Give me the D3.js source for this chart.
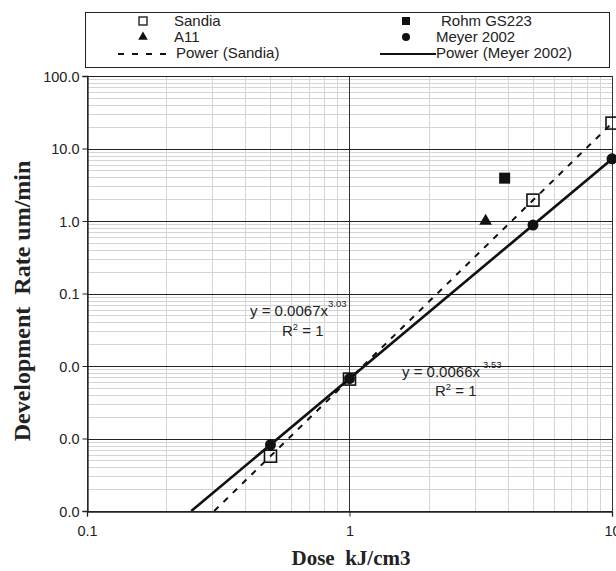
<!DOCTYPE html>
<html>
<head>
<meta charset="utf-8">
<script src="https://cdn.jsdelivr.net/npm/d3@7"></script>
<style>
  html, body { margin: 0; padding: 0; background: #fff; }
  svg { display: block; }
  .tick-label { font-family: "Liberation Sans", Arial, sans-serif; font-size: 14.5px; fill: #222; }
  .axis-title { font-family: "Liberation Serif", "Times New Roman", serif; font-size: 21px; font-weight: bold; fill: #222; white-space: pre; }
  .legend-text, .eq { font-family: "Liberation Sans", Arial, sans-serif; font-size: 15px; fill: #222; }
</style>
</head>
<body>
<svg id="chart" width="616" height="571"></svg>
<script>
// Measured development rate vs. dose
const sandiaDose = [0.5, 1, 5, 10];
const sandiaRate = [0.00057, 0.0066, 1.94, 22.4];
const meyerDose = [0.5, 1, 5, 10];
const meyerRate = [0.00082, 0.0067, 0.88, 7.2];
const rohmDose = [3.9];
const rohmRate = [3.9];
const a11Dose = [3.3];
const a11Rate = [1.0];

// Power-law trendlines  y = a * x^b
const sandiaFit = [0.0066, 3.53];
const meyerFit = [0.0067, 3.03];

// Axis ticks
const xTicks = [0.1, 1, 10];
const yTicks = [0.0001, 0.001, 0.01, 0.1, 1, 10, 100];

const svg = d3.select("#chart");
const plotL = 87, plotR = 612, plotT = 76, plotB = 511;

const x = d3.scaleLog().domain([0.1, 10]).range([plotL, plotR]);
const y = d3.scaleLog().domain([0.0001, 100]).range([plotB, plotT]);

// minor grid values (2..9 in each decade)
const minorX = [], minorY = [];
for (let d = 0.1; d < 10 - 1e-9; d *= 10) for (let k = 2; k <= 9; k++) minorX.push(d * k);
for (let d = 0.0001; d < 100 - 1e-9; d *= 10) for (let k = 2; k <= 9; k++) minorY.push(d * k);

const grid = svg.append("g");
grid.selectAll(".mx").data(minorX).join("line")
  .attr("x1", d => Math.round(x(d)) + 0.5).attr("x2", d => Math.round(x(d)) + 0.5)
  .attr("y1", plotT).attr("y2", plotB)
  .attr("stroke", "#d4d4d4").attr("stroke-width", 1);
grid.selectAll(".my").data(minorY).join("line")
  .attr("y1", d => Math.round(y(d)) + 0.5).attr("y2", d => Math.round(y(d)) + 0.5)
  .attr("x1", plotL).attr("x2", plotR)
  .attr("stroke", "#d4d4d4").attr("stroke-width", 1);
grid.selectAll(".Mx").data(xTicks).join("line")
  .attr("x1", d => Math.round(x(d)) + 0.5).attr("x2", d => Math.round(x(d)) + 0.5)
  .attr("y1", plotT).attr("y2", plotB)
  .attr("stroke", "#333").attr("stroke-width", 1);
grid.selectAll(".My").data(yTicks).join("line")
  .attr("y1", d => Math.round(y(d)) + 0.5).attr("y2", d => Math.round(y(d)) + 0.5)
  .attr("x1", plotL).attr("x2", plotR)
  .attr("stroke", "#222").attr("stroke-width", 1);

// axes
const fmtY = d3.format(".1f");
const yAxis = d3.axisLeft(y).tickValues(yTicks).tickFormat(fmtY).tickSize(5).tickPadding(3);
const xAxis = d3.axisBottom(x).tickValues(xTicks).tickFormat(d => d === 0.1 ? "0.1" : String(d)).tickSize(5).tickPadding(9);

const gy = svg.append("g").attr("transform", `translate(${plotL + 0.5},0)`).call(yAxis);
const gx = svg.append("g").attr("transform", `translate(0,${plotB + 0.5})`).call(xAxis);
[gy, gx].forEach(g => {
  g.select(".domain").attr("stroke", "#222").attr("stroke-width", 1.3);
  g.selectAll(".tick line").attr("stroke", "#222");
  g.selectAll(".tick text").attr("class", "tick-label").attr("font-family", null).attr("font-size", null);
});
gy.selectAll(".tick text").attr("dy", "0.35em");

// axis titles
svg.append("text").attr("class", "axis-title")
  .attr("transform", `translate(30,301) rotate(-90)`)
  .attr("text-anchor", "middle").style("font-size", "24px").text("Development  Rate um/min");
svg.append("text").attr("class", "axis-title")
  .attr("x", 351).attr("y", 565).attr("text-anchor", "middle").text("Dose  kJ/cm3");

// clip for trendlines
svg.append("clipPath").attr("id", "plotclip").append("rect")
  .attr("x", plotL).attr("y", plotT).attr("width", plotR - plotL).attr("height", plotB - plotT);

function fitLine(fit) {
  const [a, b] = fit;
  const x0 = Math.pow(0.0001 / a, 1 / b);
  return [[x0, 0.0001], [10, a * Math.pow(10, b)]];
}
const line = d3.line().x(d => x(d[0])).y(d => y(d[1]));
const lines = svg.append("g").attr("clip-path", "url(#plotclip)");
lines.append("path").attr("d", line(fitLine(sandiaFit)))
  .attr("fill", "none").attr("stroke", "#111").attr("stroke-width", 2)
  .attr("stroke-dasharray", "6,7");
lines.append("path").attr("d", line(fitLine(meyerFit)))
  .attr("fill", "none").attr("stroke", "#111").attr("stroke-width", 2.6);

// markers
const marks = svg.append("g");
marks.selectAll(".meyer").data(d3.zip(meyerDose, meyerRate)).join("circle")
  .attr("cx", d => x(d[0])).attr("cy", d => y(d[1])).attr("r", 5.5).attr("fill", "#111");
marks.selectAll(".sandia").data(d3.zip(sandiaDose, sandiaRate)).join("rect")
  .attr("x", d => x(d[0]) - 6).attr("y", d => y(d[1]) - 6).attr("width", 12).attr("height", 12)
  .attr("fill", "none").attr("stroke", "#111").attr("stroke-width", 1.6);
marks.selectAll(".rohm").data(d3.zip(rohmDose, rohmRate)).join("rect")
  .attr("x", d => x(d[0]) - 5.5).attr("y", d => y(d[1]) - 5.5).attr("width", 11).attr("height", 11)
  .attr("fill", "#111");
const tri = d3.symbol().type(d3.symbolTriangle).size(70);
marks.selectAll(".a11").data(d3.zip(a11Dose, a11Rate)).join("path")
  .attr("d", tri).attr("transform", d => `translate(${x(d[0])},${y(d[1])})`).attr("fill", "#111");

// trendline equations
function equation(xp, yp, coef, exp, gap) {
  const t = svg.append("text").attr("class", "eq").attr("x", xp).attr("y", yp);
  t.append("tspan").text(`y = ${coef}x`);
  t.append("tspan").attr("font-size", "9.5px").attr("dx", gap).attr("dy", -9).text(exp);
}
function rsq(xp, yp) {
  const t = svg.append("text").attr("class", "eq").attr("x", xp).attr("y", yp);
  t.append("tspan").text("R");
  t.append("tspan").attr("font-size", "9.5px").attr("dy", -6).text("2");
  t.append("tspan").attr("dy", 6).text(" = 1");
}
equation(250, 316, meyerFit[0].toFixed(4), meyerFit[1].toFixed(2), 0);
rsq(282, 336);
equation(402, 377, sandiaFit[0].toFixed(4), sandiaFit[1].toFixed(2), 3);
rsq(435, 396);

// legend
const lg = svg.append("g");
lg.append("rect").attr("x", 85.5).attr("y", 12.5).attr("width", 524).attr("height", 55)
  .attr("fill", "#fff").attr("stroke", "#222").attr("stroke-width", 1);
const rows = [21, 37, 53];
lg.append("rect").attr("x", 139).attr("y", rows[0] - 4).attr("width", 8).attr("height", 8)
  .attr("fill", "none").attr("stroke", "#111").attr("stroke-width", 1.3);
lg.append("text").attr("class", "legend-text").attr("x", 174).attr("y", rows[0] + 5).text("Sandia");
lg.append("path").attr("d", d3.symbol().type(d3.symbolTriangle).size(40))
  .attr("transform", `translate(143,${rows[1]})`).attr("fill", "#111");
lg.append("text").attr("class", "legend-text").attr("x", 174).attr("y", rows[1] + 5).text("A11");
lg.append("line").attr("x1", 118).attr("x2", 171).attr("y1", rows[2] + 1).attr("y2", rows[2] + 1)
  .attr("stroke", "#111").attr("stroke-width", 2).attr("stroke-dasharray", "6,8");
lg.append("text").attr("class", "legend-text").attr("x", 176).attr("y", rows[2] + 5).text("Power (Sandia)");

lg.append("rect").attr("x", 402).attr("y", rows[0] - 4).attr("width", 8).attr("height", 8).attr("fill", "#111");
lg.append("text").attr("class", "legend-text").attr("x", 441).attr("y", rows[0] + 5).text("Rohm GS223");
lg.append("circle").attr("cx", 406).attr("cy", rows[1]).attr("r", 4).attr("fill", "#111");
lg.append("text").attr("class", "legend-text").attr("x", 436).attr("y", rows[1] + 5).text("Meyer 2002");
lg.append("line").attr("x1", 380).attr("x2", 436).attr("y1", rows[2] + 1).attr("y2", rows[2] + 1)
  .attr("stroke", "#111").attr("stroke-width", 2.2);
lg.append("text").attr("class", "legend-text").attr("x", 436).attr("y", rows[2] + 5).text("Power (Meyer 2002)");
</script>
</body>
</html>
